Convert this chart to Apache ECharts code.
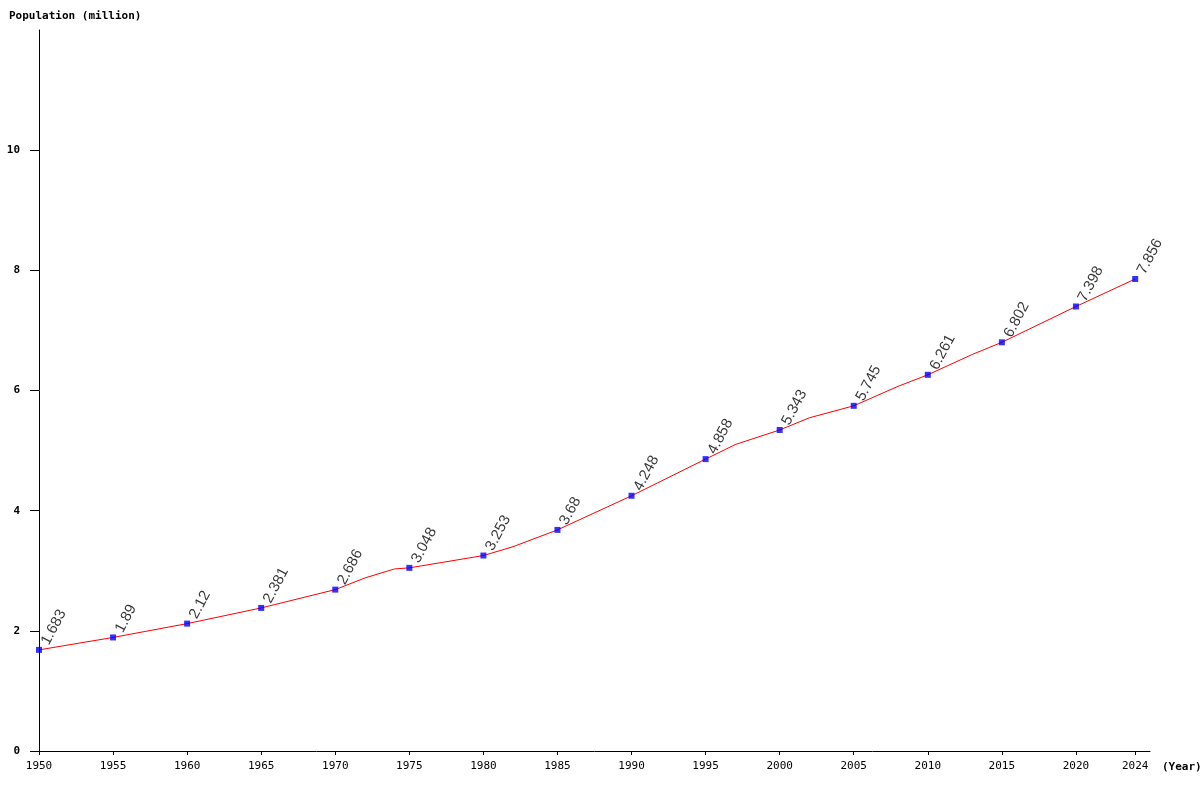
<!DOCTYPE html>
<html>
<head>
<meta charset="utf-8">
<script src="https://cdn.jsdelivr.net/npm/echarts@6/dist/echarts.min.js"></script>
<style>
html, body { margin: 0; padding: 0; background: #fff; }
#chart { width: 1200px; height: 800px; }
</style>
</head>
<body>
<div id="chart"></div>
<script>
// labelled points (every 5 years + 2024)
var years = [1950, 1955, 1960, 1965, 1970, 1975, 1980, 1985, 1990, 1995, 2000, 2005, 2010, 2015, 2020, 2024];
var population = [1.683, 1.89, 2.12, 2.381, 2.686, 3.048, 3.253, 3.68, 4.248, 4.858, 5.343, 5.745, 6.261, 6.802, 7.398, 7.856];
// extra bends of the line
var bendYears = [1972, 1974, 1982, 1997, 2002, 2008, 2013];
var bendValues = [2.88, 3.03, 3.40, 5.10, 5.545, 6.07, 6.60];
var xTicks = [1950, 1955, 1960, 1965, 1970, 1975, 1980, 1985, 1990, 1995, 2000, 2005, 2010, 2015, 2020, 2024];
var yTicks = [0, 2, 4, 6, 8, 10];

function initChart() {
    var chart = echarts.init(document.getElementById('chart'));

    var points = [];
    for (var i = 0; i < years.length; i++) {
        points.push([years[i], population[i]]);
    }
    var linePoints = points.slice();
    for (var j = 0; j < bendYears.length; j++) {
        linePoints.push([bendYears[j], bendValues[j]]);
    }
    linePoints.sort(function (a, b) { return a[0] - b[0]; });

    var mono = 'DejaVu Sans Mono';

    chart.setOption({
        animation: false,
        backgroundColor: '#fff',
        title: {
            text: 'Population (million)',
            left: 9,
            top: 11,
            padding: 0,
            textStyle: { fontFamily: mono, fontSize: 11, fontWeight: 'bold', color: '#000' }
        },
        grid: { left: 39, right: 50, top: 30, bottom: 49, containLabel: false, outerBoundsMode: 'none' },
        xAxis: {
            type: 'value',
            min: 1950,
            max: 2025,
            name: '(Year)',
            nameLocation: 'end',
            nameGap: 12,
            nameTextStyle: {
                fontFamily: mono, fontSize: 11, fontWeight: 'bold', color: '#000',
                align: 'left', verticalAlign: 'top', padding: [11, 0, 0, 0]
            },
            splitLine: { show: false },
            axisLine: { lineStyle: { color: '#000', width: 1 } },
            axisTick: { length: 4, customValues: xTicks, lineStyle: { color: '#000' } },
            axisLabel: {
                customValues: xTicks,
                margin: 10,
                fontFamily: mono, fontSize: 11, color: '#000',
                formatter: function (v) { return String(v); }
            }
        },
        yAxis: {
            type: 'value',
            min: 0,
            max: 12,
            interval: 2,
            splitLine: { show: false },
            axisLine: { show: true, lineStyle: { color: '#000', width: 1 } },
            axisTick: { show: true, length: 9, customValues: yTicks, lineStyle: { color: '#000' } },
            axisLabel: {
                customValues: yTicks,
                margin: 19,
                fontFamily: mono, fontSize: 11, fontWeight: 'bold', color: '#000'
            }
        },
        series: [
            {
                type: 'line',
                data: linePoints,
                showSymbol: false,
                lineStyle: { color: '#ff0000', width: 1 },
                z: 2
            },
            {
                type: 'scatter',
                data: points,
                symbol: 'rect',
                symbolSize: 6,
                itemStyle: { color: '#0000ff' },
                z: 3,
                label: {
                    show: true,
                    position: [9, -3],
                    rotate: 62,
                    align: 'left',
                    verticalAlign: 'middle',
                    fontFamily: 'Liberation Sans',
                    fontSize: 15,
                    color: '#000',
                    formatter: function (p) { return String(p.value[1]); }
                }
            }
        ]
    });
}
initChart();
</script>
</body>
</html>
